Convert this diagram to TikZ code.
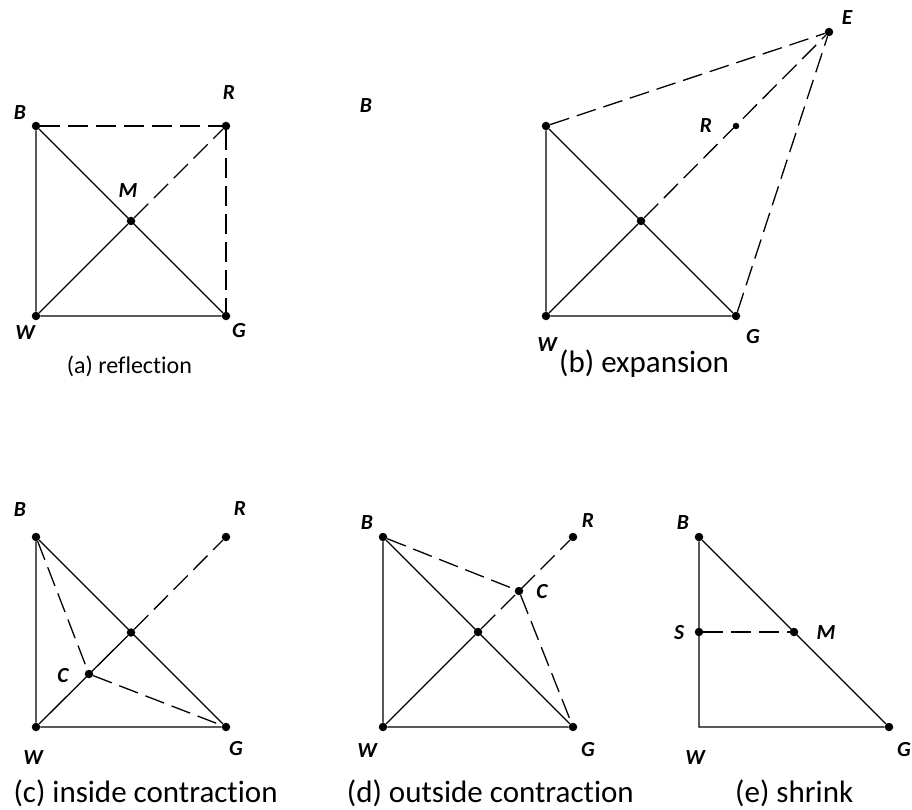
\documentclass[tikz,border=0pt]{standalone}
\usepackage{fontspec}
\setmainfont{Carlito}[Ligatures=NoCommon]
\begin{document}
\begin{tikzpicture}[x=1pt,y=-1pt,
  dot/.style={circle, fill=black, inner sep=0pt, minimum size=8.5pt},
  sdot/.style={circle, fill=black, inner sep=0pt, minimum size=6.5pt},
  lbl/.style={font=\fontsize{21.5}{25}\selectfont\bfseries\itshape, inner sep=0pt},
  bigcap/.style={font=\fontsize{31}{36}\selectfont, anchor=base west, inner sep=0pt},
  smallcap/.style={font=\fontsize{24}{28}\selectfont, anchor=base west, inner sep=0pt},
  solidln/.style={line width=1.3pt},
  dashln/.style={line width=1.3pt, dash pattern=on 20pt off 8pt}]
\useasboundingbox (0,0) rectangle (912,810);

% ---------- (a) reflection ----------
\node[dot] (aB) at (36,126) {};
\node[dot] (aR) at (226,126) {};
\node[dot] (aM) at (131,221) {};
\node[dot] (aW) at (36,316) {};
\node[dot] (aG) at (226,316) {};
\draw[solidln] (aB) -- (aW) -- (aG) -- (aB);
\draw[solidln] (aW) -- (aM);
\draw[dashln] (aB) -- (aR);
\draw[dashln] (aR) -- (aG);
\draw[dashln] (aM) -- (aR);
\node[lbl] (aBl) at (20,113) {B};
\node[lbl] (aRl) at (229,93) {R};
\node[lbl] (aMl) at (128,191) {M};
\node[lbl] (aWl) at (25,333) {W};
\node[lbl] (aGl) at (239,331) {G};
\node[smallcap] (acap) at (66.7,373) {(a) reflection};

% ---------- (b) expansion ----------
\node[dot] (bB) at (546,126) {};
\node[dot] (bW) at (546,316) {};
\node[dot] (bG) at (736,316) {};
\node[dot] (bM) at (641,221) {};
\node[sdot] (bR) at (736,126) {};
\node[dot] (bE) at (829,32) {};
\draw[solidln] (bB) -- (bW) -- (bG) -- (bB);
\draw[solidln] (bW) -- (bM);
\draw[dashln] (bB) -- (bE);
\draw[dashln] (bM) -- (bE);
\draw[dashln] (bG) -- (bE);
\node[lbl] (bBl) at (366,106) {B};
\node[lbl] (bRl) at (706,126) {R};
\node[lbl] (bEl) at (847,18) {E};
\node[lbl] (bWl) at (547,345) {W};
\node[lbl] (bGl) at (753,337) {G};
\node[bigcap] (bcap) at (559,372) {(b) expansion};

% ---------- (c) inside contraction ----------
\node[dot] (cB) at (36,537) {};
\node[dot] (cR) at (226,537) {};
\node[dot] (cM) at (131,632.5) {};
\node[dot] (cC) at (89,674) {};
\node[dot] (cW) at (36,727) {};
\node[dot] (cG) at (226,727) {};
\draw[solidln] (cB) -- (cW) -- (cG) -- (cB);
\draw[solidln] (cW) -- (cM);
\draw[dashln] (cM) -- (cR);
\draw[dashln] (cB) -- (cC);
\draw[dashln] (cC) -- (cG);
\node[lbl] (cBl) at (20,510) {B};
\node[lbl] (cRl) at (240,509) {R};
\node[lbl] (cCl) at (63,676) {C};
\node[lbl] (cWl) at (33,758) {W};
\node[lbl] (cGl) at (236,749) {G};
\node[bigcap] (ccap) at (13.3,802) {(c) inside contraction};

% ---------- (d) outside contraction ----------
\node[dot] (dB) at (383,537) {};
\node[dot] (dR) at (573,537) {};
\node[dot] (dC) at (519,591) {};
\node[dot] (dM) at (478,632) {};
\node[dot] (dW) at (383,727) {};
\node[dot] (dG) at (573,727) {};
\draw[solidln] (dB) -- (dW) -- (dG) -- (dB);
\draw[solidln] (dW) -- (dM);
\draw[dashln] (dM) -- (dR);
\draw[dashln] (dB) -- (dC);
\draw[dashln] (dC) -- (dG);
\node[lbl] (dBl) at (367,523) {B};
\node[lbl] (dRl) at (588,521) {R};
\node[lbl] (dCl) at (542,592) {C};
\node[lbl] (dWl) at (367,751) {W};
\node[lbl] (dGl) at (588,750) {G};
\node[bigcap] (dcap) at (346.7,802) {(d) outside contraction};

% ---------- (e) shrink ----------
\node[dot] (eB) at (699,537) {};
\node[dot] (eS) at (699,632) {};
\node[dot] (eM) at (794,632) {};
\coordinate (eW) at (699,727);
\node[dot] (eG) at (889,727) {};
\draw[solidln] (eB) -- (eW) -- (eG) -- (eB);
\draw[dashln] (eS) -- (eM);
\node[lbl] (eBl) at (683,523) {B};
\node[lbl] (eSl) at (679,633) {S};
\node[lbl] (eMl) at (826,633) {M};
\node[lbl] (eWl) at (695,758) {W};
\node[lbl] (eGl) at (904,750) {G};
\node[bigcap] (ecap) at (735,802) {(e) shrink};
\end{tikzpicture}
\end{document}
